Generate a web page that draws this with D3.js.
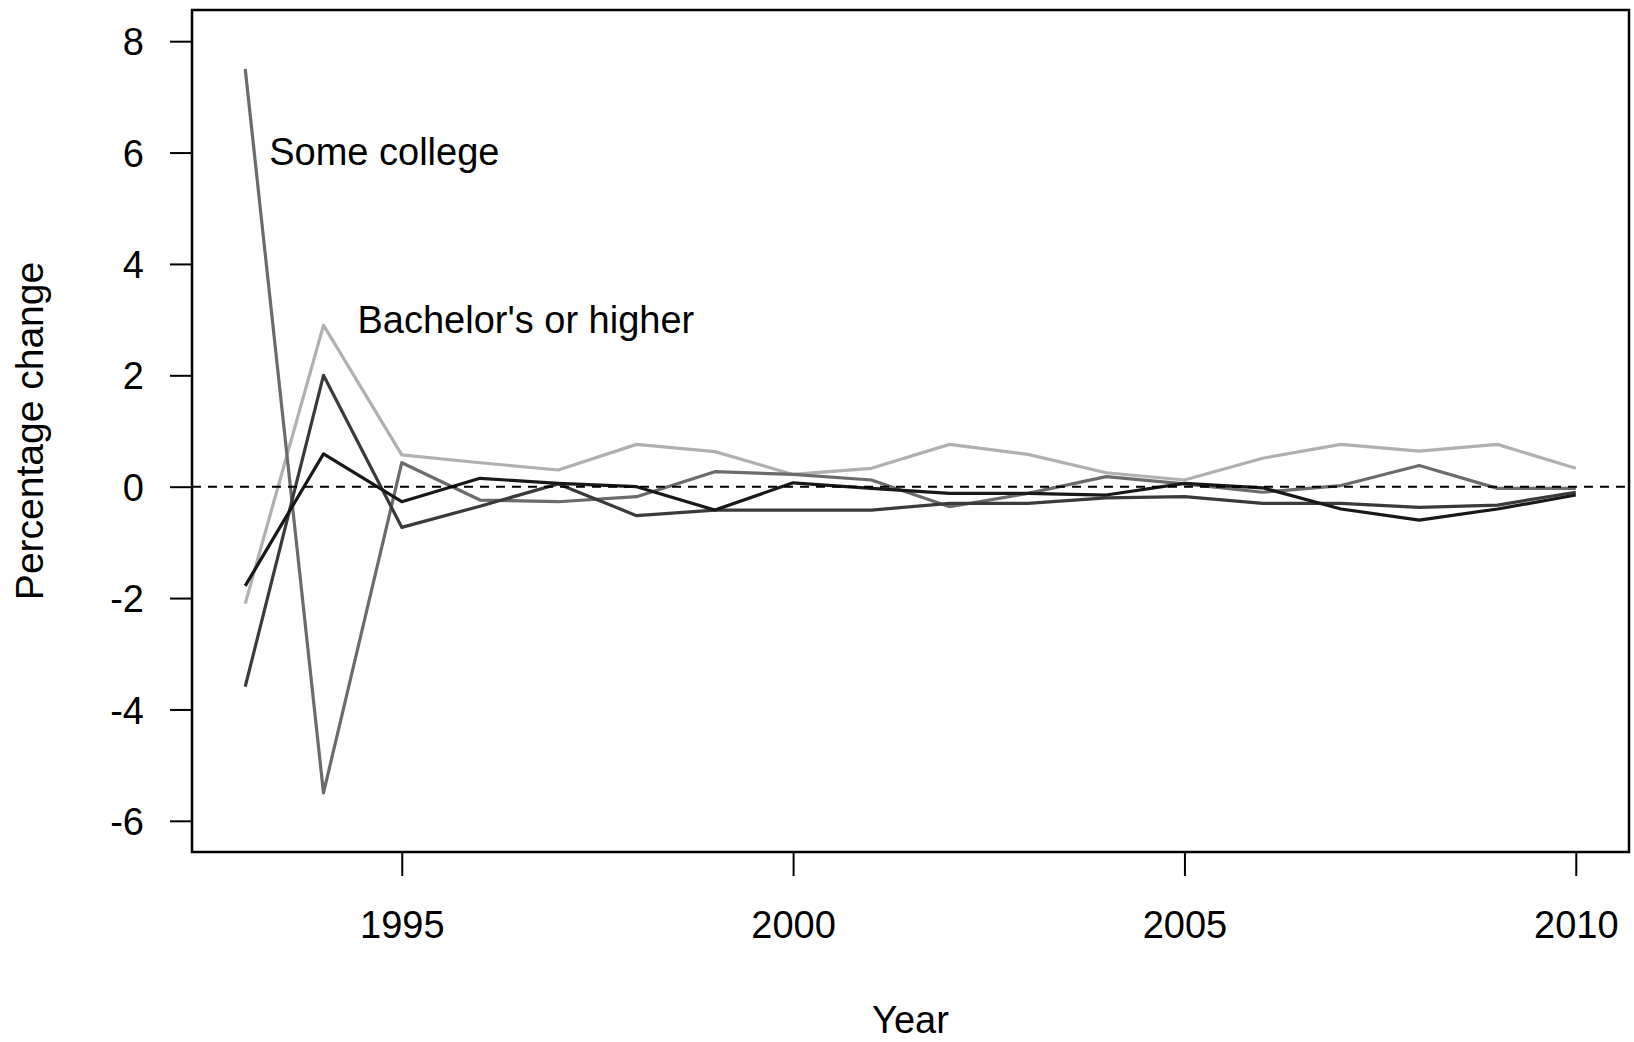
<!DOCTYPE html>
<html>
<head>
<meta charset="utf-8">
<script src="https://cdn.jsdelivr.net/npm/d3@7"></script>
<style>
  html, body { margin: 0; padding: 0; background: #fff; }
  svg { display: block; }
  text { font-family: "Liberation Sans", Arial, sans-serif; fill: #000; }
</style>
</head>
<body>
<svg id="chart" width="1634" height="1042"></svg>
<script>
// Annual percentage change by educational attainment
const years = [1993, 1994, 1995, 1996, 1997, 1998, 1999, 2000, 2001,
               2002, 2003, 2004, 2005, 2006, 2007, 2008, 2009, 2010];

const bachelorsOrHigher = [-2.1, 2.9, 0.57, 0.43, 0.30, 0.76, 0.63, 0.22, 0.33,
                           0.76, 0.58, 0.25, 0.12, 0.51, 0.76, 0.64, 0.76, 0.33];
const someCollege       = [7.5, -5.5, 0.43, -0.24, -0.27, -0.18, 0.27, 0.22, 0.12,
                           -0.36, -0.12, 0.18, 0.05, -0.1, 0.02, 0.38, -0.03, -0.03];
const highSchool        = [-3.59, 2.0, -0.73, -0.35, 0.05, -0.52, -0.42, -0.42, -0.42,
                           -0.3, -0.3, -0.2, -0.18, -0.3, -0.3, -0.37, -0.33, -0.1];
const lessThanHS        = [-1.78, 0.59, -0.27, 0.15, 0.06, 0.0, -0.42, 0.07, -0.03,
                           -0.12, -0.12, -0.15, 0.06, -0.02, -0.4, -0.6, -0.4, -0.15];

const yTicks = [-6, -4, -2, 0, 2, 4, 6, 8];
const xTicks = [1995, 2000, 2005, 2010];

const seriesList = [
  { name: "Bachelor's or higher", values: bachelorsOrHigher, color: "#b0b0b0" },
  { name: "Some college",         values: someCollege,       color: "#6b6b6b" },
  { name: "High school",          values: highSchool,        color: "#3a3a3a" },
  { name: "Less than high school", values: lessThanHS,       color: "#181818" }
];

const svg = d3.select("#chart");
const box = { left: 192, right: 1629, top: 10, bottom: 852 };

// R-style 4% padding around the data range / y limits of -6..8
const xPad = (2010 - 1993) * 0.04;
const x = d3.scaleLinear()
  .domain([1993 - xPad, 2010 + xPad])
  .range([box.left, box.right]);
const yPad = 14 * 0.04;
const y = d3.scaleLinear()
  .domain([-6 - yPad, 8 + yPad])
  .range([box.bottom, box.top]);

const fs = 38;
const plain = d => String(d);   // hyphen-minus, as in base graphics

// series lines
const line = d3.line()
  .x((d, i) => x(years[i]))
  .y(d => y(d));

svg.append("g")
  .selectAll("path")
  .data(seriesList)
  .join("path")
  .attr("d", s => line(s.values))
  .attr("fill", "none")
  .attr("stroke", s => s.color)
  .attr("stroke-width", 3.2)
  .attr("stroke-linejoin", "round");

// horizontal reference at zero
svg.append("line")
  .attr("x1", box.left).attr("x2", box.right)
  .attr("y1", y(0)).attr("y2", y(0))
  .attr("stroke", "#000")
  .attr("stroke-width", 2)
  .attr("stroke-dasharray", "9,7");

// y axis
const yAxis = d3.axisLeft(y)
  .tickValues(yTicks)
  .tickSize(22)
  .tickPadding(26)
  .tickFormat(plain);
const gy = svg.append("g")
  .attr("transform", `translate(${box.left},0)`)
  .call(yAxis);
gy.select(".domain").remove();
gy.selectAll(".tick line").attr("stroke", "#000").attr("stroke-width", 2);
gy.selectAll(".tick text")
  .attr("font-size", fs)
  .attr("dy", "0.36em")
  .style("font-family", "'Liberation Sans', Arial, sans-serif");

// x axis
const xAxis = d3.axisBottom(x)
  .tickValues(xTicks)
  .tickSize(24)
  .tickPadding(0)
  .tickFormat(plain);
const gx = svg.append("g")
  .attr("transform", `translate(0,${box.bottom})`)
  .call(xAxis);
gx.select(".domain").remove();
gx.selectAll(".tick line").attr("stroke", "#000").attr("stroke-width", 2);
gx.selectAll(".tick text")
  .attr("font-size", fs)
  .attr("y", 86)
  .attr("dy", 0)
  .style("font-family", "'Liberation Sans', Arial, sans-serif");

// plot frame
svg.append("rect")
  .attr("x", box.left).attr("y", box.top)
  .attr("width", box.right - box.left)
  .attr("height", box.bottom - box.top)
  .attr("fill", "none")
  .attr("stroke", "#000")
  .attr("stroke-width", 2.5);

// axis titles
svg.append("text")
  .attr("x", (box.left + box.right) / 2)
  .attr("y", 1033)
  .attr("text-anchor", "middle")
  .attr("font-size", fs)
  .text("Year");

svg.append("text")
  .attr("transform", `translate(43,${(box.top + box.bottom) / 2}) rotate(-90)`)
  .attr("text-anchor", "middle")
  .attr("font-size", 39)
  .text("Percentage change");

// series annotations
svg.append("text")
  .attr("x", x(1993) + 24)
  .attr("y", 165)
  .attr("font-size", fs)
  .text("Some college");

svg.append("text")
  .attr("x", x(1994) + 34)
  .attr("y", 333)
  .attr("font-size", fs)
  .text("Bachelor's or higher");
</script>
</body>
</html>
